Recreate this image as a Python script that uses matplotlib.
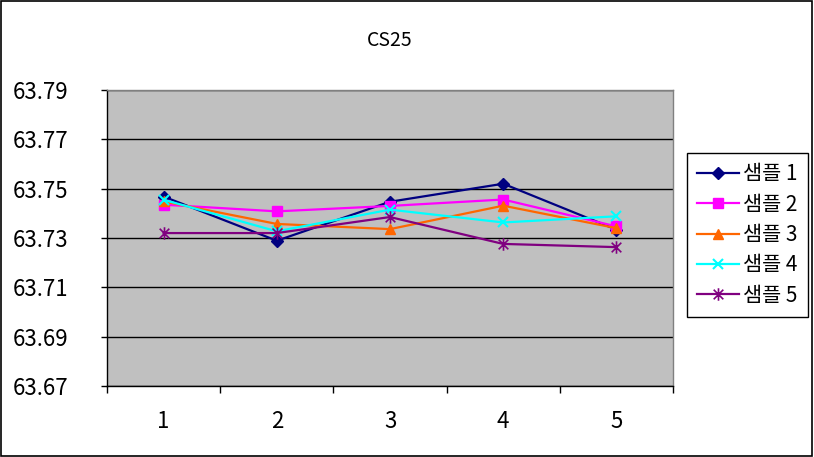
import matplotlib
matplotlib.use("Agg")
import matplotlib.pyplot as plt
from matplotlib.path import Path
from matplotlib.patches import Rectangle

plt.rcParams['font.family'] = ['Noto Sans CJK KR', 'DejaVu Sans']

categories = [1, 2, 3, 4, 5]
series_names = ["샘플 1", "샘플 2", "샘플 3", "샘플 4", "샘플 5"]
s1 = [63.7468, 63.7289, 63.7447, 63.7520, 63.7334]
s2 = [63.7435, 63.7408, 63.7430, 63.7456, 63.7347]
s3 = [63.7448, 63.7357, 63.7336, 63.7431, 63.7340]
s4 = [63.7455, 63.7327, 63.7415, 63.7363, 63.7388]
s5 = [63.7320, 63.7320, 63.7385, 63.7276, 63.7263]
yticks = [63.67, 63.69, 63.71, 63.73, 63.75, 63.77, 63.79]
title = "CS25"

asterisk = Path(
    [(-1, -1), (1, 1), (-1, 1), (1, -1), (0, -1.3), (0, 1.3)],
    [Path.MOVETO, Path.LINETO, Path.MOVETO, Path.LINETO, Path.MOVETO, Path.LINETO],
)

styles = [
    dict(color="#000080", marker="D", ms=6),
    dict(color="#FF00FF", marker="s", ms=7),
    dict(color="#FF6600", marker="^", ms=7),
    dict(color="#00FFFF", marker="x", ms=7, mew=1.5),
    dict(color="#800080", marker=asterisk, ms=9, mew=1.2),
]

fig = plt.figure(figsize=(8.14, 4.57), dpi=100)
ax = fig.add_axes([107/814, 1-386/457, (673-107)/814, (386-90)/457])
ax.set_facecolor("#C0C0C0")

for name, data, st in zip(series_names, [s1, s2, s3, s4, s5], styles):
    ax.plot(categories, data, label=name, lw=1.6, color=st["color"], marker=st["marker"],
            markersize=st["ms"], markeredgewidth=st.get("mew", 1.0),
            markerfacecolor=st["color"], markeredgecolor=st["color"])

ax.set_xlim(0.5, 5.5)
ax.set_ylim(63.67, 63.79)
ax.set_yticks(yticks)
ax.set_yticklabels([f"{v:.2f}" for v in yticks], fontsize=16)
ax.yaxis.grid(True, color="black", lw=1)
ax.set_axisbelow(True)
ax.set_xticks(categories)
ax.set_xticklabels([str(c) for c in categories], fontsize=16)
ax.set_xticks([0.5, 1.5, 2.5, 3.5, 4.5, 5.5], minor=True)
ax.tick_params(axis="x", which="major", length=0, pad=17)
ax.tick_params(axis="x", which="minor", length=5, width=1, direction="out")
ax.tick_params(axis="y", length=4, width=1, direction="out", pad=64)
for t in ax.get_yticklabels():
    t.set_horizontalalignment("left")

for s in ["left", "bottom"]:
    ax.spines[s].set_color("black")
    ax.spines[s].set_linewidth(1)
for s in ["top", "right"]:
    ax.spines[s].set_color("#808080")
    ax.spines[s].set_linewidth(1)

fig.text(390/814, 1-40/457, title, ha="center", va="center", fontsize=14)

leg = fig.legend(loc="center left", bbox_to_anchor=(687/814, 1-235/457), fontsize=15,
                 frameon=True, fancybox=False, edgecolor="black", framealpha=1,
                 handlelength=2.0, handletextpad=0.2, borderpad=0.5, labelspacing=0.4,
                 borderaxespad=0)
leg.get_frame().set_linewidth(1)

fig.patches.append(Rectangle((0.001, 0.002), 0.997, 0.996, transform=fig.transFigure,
                             fill=False, edgecolor="black", lw=1.2))

fig.savefig("out.png", dpi=100, facecolor="white")
